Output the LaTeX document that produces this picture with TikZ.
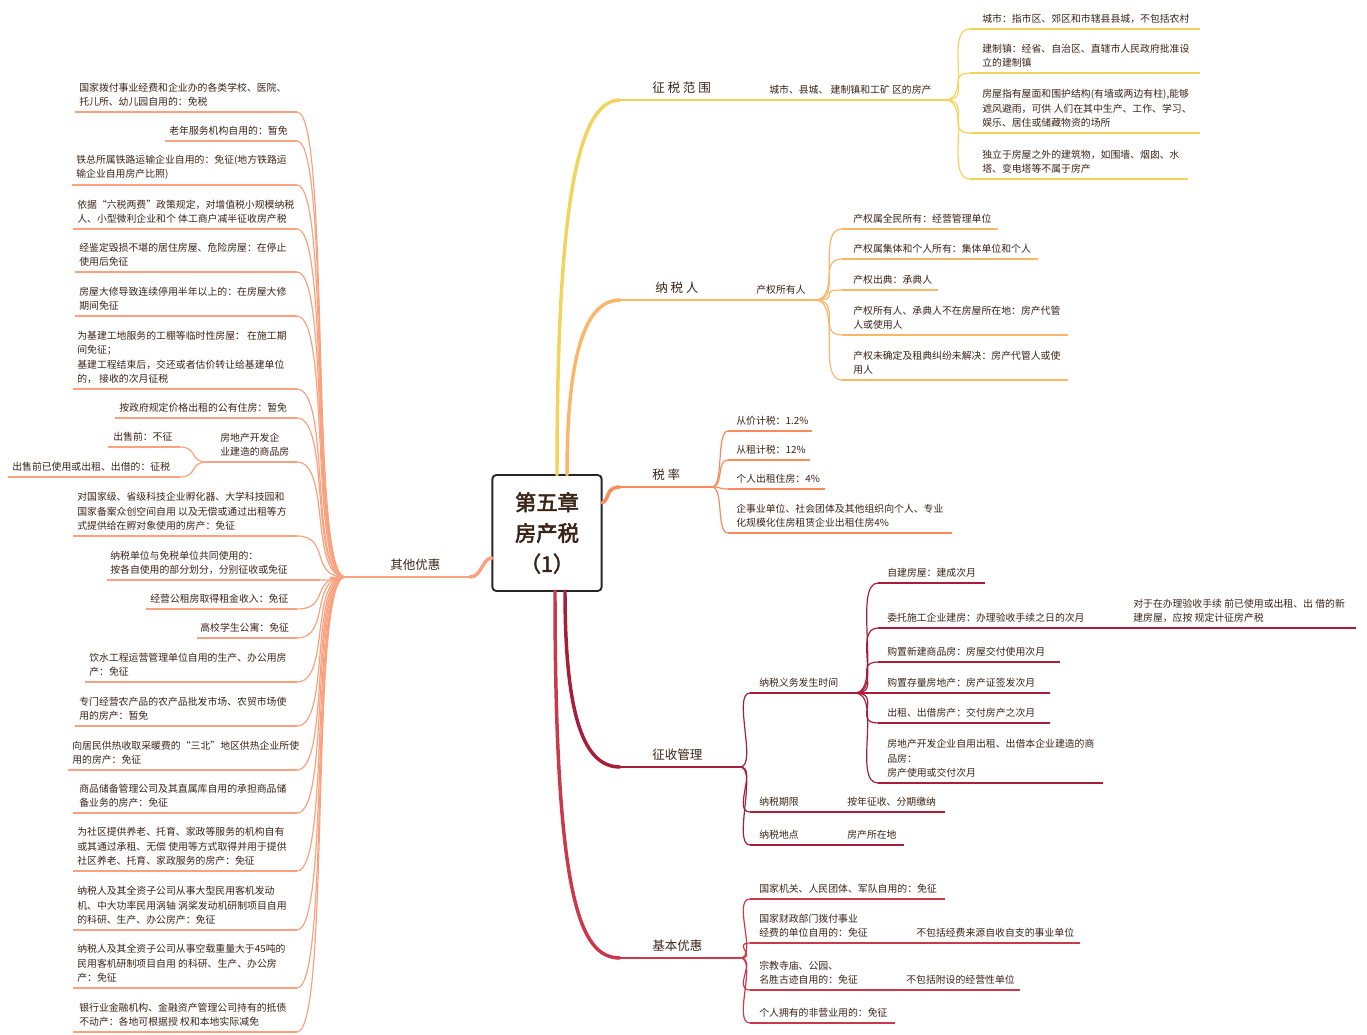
\documentclass[tikz,border=0pt]{standalone}
\usepackage{fontspec}
\setmainfont{Noto Sans CJK SC}
\newfontfamily\boldcjk{Noto Sans CJK SC}[FakeBold=2.5]
\usetikzlibrary{calc}

\definecolor{yel}{HTML}{F2D45C}
\definecolor{lor}{HTML}{FBB769}
\definecolor{org}{HTML}{F88A5C}
\definecolor{dred}{HTML}{A61E3A}
\definecolor{rred}{HTML}{C9394A}
\definecolor{sal}{HTML}{F9A27F}
\definecolor{txt}{HTML}{3A2418}

\tikzset{
  leaftext/.style={inner sep=0pt, align=left, text=txt, font=\fontsize{7.4}{10.9}\selectfont},
  mainlabel/.style={inner sep=0pt, text=txt, font=\fontsize{9.4}{12}\selectfont},
  fan/.style={line width=0.9pt},
  trunk/.style={line width=2.6pt, line cap=round},
}

% name, colour, x1, x2, y of underline, x of text, text
\newcommand{\leaf}[7]{%
  \coordinate (#1-w) at (#3,#5);
  \coordinate (#1-e) at (#4,#5);
  \draw[#2, fan] (#1-w) -- (#1-e);
  \node[leaftext, anchor=south west] (#1) at (#6,#5-5) {#7};}
\newcommand{\mleaf}[7]{%
  \coordinate (#1-w) at (#3,#5);
  \coordinate (#1-e) at (#4,#5);
  \draw[#2, line width=1.6pt] (#1-w) -- (#1-e);
  \node[mainlabel, anchor=south west] (#1) at (#6,#5-6) {#7};}
% fan to the right / to the left
\newcommand{\fanR}[3]{\draw[#1, fan] (#2) .. controls +(28,0) and +(-26,0) .. (#3);}
\newcommand{\fanL}[3]{\draw[#1, fan] (#2) .. controls +(-36,0) and +(34,0) .. (#3);}

\begin{document}
\begin{tikzpicture}[x=0.75pt, y=-0.75pt]
  \useasboundingbox (0,0) rectangle (1367,1035);

  % centre
  \node[draw=black!85, line width=1.4pt, rounded corners=3pt, minimum width=82pt, minimum height=87pt,
        align=center, inner sep=0pt, text=txt, font=\boldcjk\fontsize{16}{23}\selectfont]
        (box) at (547,533) {第五章\\房产税\\（1）};

  % ---------------- 征税范围
  \mleaf{fw}{yel}{620}{760}{100}{652}{征 税 范 围}
  \leaf{fwA}{yel}{760}{945}{100}{769}{城市、县城、 建制镇和工矿 区的房产}
  \leaf{fw1}{yel}{970}{1200}{29}{982}{城市：指市区、郊区和市辖县县城，不包括农村}
  \leaf{fw2}{yel}{970}{1200}{73}{982}{建制镇：经省、自治区、直辖市人民政府批准设\\立的建制镇}
  \leaf{fw3}{yel}{970}{1200}{133}{982}{房屋指有屋面和围护结构(有墙或两边有柱),能够\\遮风避雨，可供 人们在其中生产、工作、学习、\\娱乐、居住或储藏物资的场所}
  \leaf{fw4}{yel}{970}{1188}{179}{982}{独立于房屋之外的建筑物，如围墙、烟囱、水\\塔、变电塔等不属于房产}
  \foreach \n in {fw1,fw2,fw3,fw4} {\fanR{yel}{fwA-e}{\n-w}}

  % ---------------- 纳税人
  \mleaf{ns}{lor}{620}{745}{300}{655}{纳 税 人}
  \leaf{nsA}{lor}{745}{815}{300}{756}{产权所有人}
  \leaf{ns1}{lor}{842}{998}{229}{853}{产权属全民所有：经营管理单位}
  \leaf{ns2}{lor}{842}{1038}{259}{853}{产权属集体和个人所有：集体单位和个人}
  \leaf{ns3}{lor}{842}{938}{290}{853}{产权出典：承典人}
  \leaf{ns4}{lor}{842}{1068}{335}{853}{产权所有人、承典人不在房屋所在地：房产代管\\人或使用人}
  \leaf{ns5}{lor}{842}{1068}{380}{853}{产权未确定及租典纠纷未解决：房产代管人或使\\用人}
  \foreach \n in {ns1,ns2,ns3,ns4,ns5} {\fanR{lor}{nsA-e}{\n-w}}

  % ---------------- 税率
  \mleaf{sl}{org}{620}{712}{487}{652}{税 率}
  \leaf{sl1}{org}{728}{812}{431}{736}{从价计税：1.2\%}
  \leaf{sl2}{org}{728}{810}{460}{736}{从租计税：12\%}
  \leaf{sl3}{org}{728}{825}{489}{736}{个人出租住房：4\%}
  \leaf{sl4}{org}{728}{952}{533}{736}{企事业单位、社会团体及其他组织向个人、专业\\化规模化住房租赁企业出租住房4\%}
  \foreach \n in {sl1,sl2,sl3,sl4} {\draw[org, fan] (sl-e) .. controls +(12,0) and +(-12,0) .. (\n-w);}

  % ---------------- 征收管理
  \mleaf{zs}{dred}{620}{740}{767}{652}{征收管理}
  \leaf{zsA}{dred}{750}{855}{693}{759}{纳税义务发生时间}
  \leaf{zs1}{dred}{878}{985}{583}{887}{自建房屋：建成次月}
  \leaf{zs2}{dred}{878}{1020}{628}{887}{委托施工企业建房：办理验收手续之日的次月}
  \leaf{zs2a}{dred}{1020}{1356}{628}{1133}{对于在办理验收手续 前已使用或出租、出 借的新\\建房屋，应按 规定计征房产税}
  \leaf{zs3}{dred}{878}{1060}{662}{887}{购置新建商品房：房屋交付使用次月}
  \leaf{zs4}{dred}{878}{1050}{693}{887}{购置存量房地产：房产证签发次月}
  \leaf{zs5}{dred}{878}{1050}{723}{887}{出租、出借房产：交付房产之次月}
  \leaf{zs6}{dred}{878}{1103}{783}{887}{房地产开发企业自用出租、出借本企业建造的商\\品房：\\房产使用或交付次月}
  \leaf{zsB}{dred}{750}{820}{812}{759}{纳税期限}
  \leaf{zsB1}{dred}{820}{945}{812}{847}{按年征收、分期缴纳}
  \leaf{zsC}{dred}{750}{820}{845}{759}{纳税地点}
  \leaf{zsC1}{dred}{820}{904}{845}{847}{房产所在地}
  \foreach \n in {zsA,zsB,zsC} {\draw[dred, fan] (zs-e) .. controls +(18,0) and +(-18,0) .. (\n-w);}
  \foreach \n in {zs1,zs2,zs3,zs4,zs5,zs6} {\fanR{dred}{zsA-e}{\n-w}}

  % ---------------- 基本优惠
  \mleaf{jb}{rred}{620}{740}{958}{652}{基本优惠}
  \leaf{jb1}{rred}{750}{945}{899}{759}{国家机关、人民团体、军队自用的：免征}
  \leaf{jb2}{rred}{750}{900}{943}{759}{国家财政部门拨付事业\\经费的单位自用的：免征}
  \leaf{jb2a}{rred}{900}{1080}{943}{916}{不包括经费来源自收自支的事业单位}
  \leaf{jb3}{rred}{750}{890}{990}{759}{宗教寺庙、公园、\\名胜古迹自用的：免征}
  \leaf{jb3a}{rred}{890}{1020}{990}{906}{不包括附设的经营性单位}
  \leaf{jb4}{rred}{750}{895}{1023}{759}{个人拥有的非营业用的：免征}
  \foreach \n in {jb1,jb2,jb3,jb4} {\draw[rred, fan] (jb-e) .. controls +(18,0) and +(-18,0) .. (\n-w);}

  % ---------------- 其他优惠
  \mleaf{qt}{sal}{345}{470}{577}{390}{其他优惠}
  \leaf{qt1}{sal}{75}{297}{112}{79}{国家拨付事业经费和企业办的各类学校、医院、\\托儿所、幼儿园自用的：免税}
  \leaf{qt2}{sal}{165}{297}{141}{169}{老年服务机构自用的：暂免}
  \leaf{qt3}{sal}{72}{297}{185}{76}{铁总所属铁路运输企业自用的：免征(地方铁路运\\输企业自用房产比照)}
  \leaf{qt4}{sal}{73}{297}{229}{77}{依据“六税两费”政策规定，对增值税小规模纳税\\人、小型微利企业和个 体工商户减半征收房产税}
  \leaf{qt5}{sal}{75}{297}{272}{79}{经鉴定毁损不堪的居住房屋、危险房屋：在停止\\使用后免征}
  \leaf{qt6}{sal}{75}{297}{316}{79}{房屋大修导致连续停用半年以上的：在房屋大修\\期间免征}
  \leaf{qt7}{sal}{73}{297}{389}{77}{为基建工地服务的工棚等临时性房屋： 在施工期\\间免征；\\基建工程结束后，交还或者估价转让给基建单位\\的， 接收的次月征税}
  \leaf{qt8}{sal}{115}{297}{418}{119}{按政府规定价格出租的公有住房：暂免}
  \leaf{qt9}{sal}{207}{297}{462}{220}{房地产开发企\\业建造的商品房}
  \leaf{qt9a}{sal}{108}{180}{447}{113}{出售前：不征}
  \leaf{qt9b}{sal}{8}{180}{477}{12}{出售前已使用或出租、出借的：征税}
  \leaf{qt10}{sal}{73}{297}{536}{77}{对国家级、省级科技企业孵化器、大学科技园和\\国家备案众创空间自用 以及无偿或通过出租等方\\式提供给在孵对象使用的房产：免征}
  \leaf{qt11}{sal}{107}{320}{580}{110}{纳税单位与免税单位共同使用的：\\按各自使用的部分划分，分别征收或免征}
  \leaf{qt12}{sal}{146}{297}{609}{150}{经营公租房取得租金收入：免征}
  \leaf{qt13}{sal}{197}{297}{638}{200}{高校学生公寓：免征}
  \leaf{qt14}{sal}{85}{297}{682}{89}{饮水工程运营管理单位自用的生产、办公用房\\产：免征}
  \leaf{qt15}{sal}{75}{297}{726}{79}{专门经营农产品的农产品批发市场、农贸市场使\\用的房产：暂免}
  \leaf{qt16}{sal}{68}{297}{770}{72}{向居民供热收取采暖费的“三北”地区供热企业所使\\用的房产：免征}
  \leaf{qt17}{sal}{73}{297}{813}{79}{商品储备管理公司及其直属库自用的承担商品储\\备业务的房产：免征}
  \leaf{qt18}{sal}{73}{297}{871}{77}{为社区提供养老、托育、家政等服务的机构自有\\或其通过承租、无偿 使用等方式取得并用于提供\\社区养老、托育、家政服务的房产：免征}
  \leaf{qt19}{sal}{73}{297}{930}{77}{纳税人及其全资子公司从事大型民用客机发动\\机、中大功率民用涡轴 涡桨发动机研制项目自用\\的科研、生产、办公房产：免征}
  \leaf{qt20}{sal}{73}{297}{988}{77}{纳税人及其全资子公司从事空载重量大于45吨的\\民用客机研制项目自用 的科研、生产、办公房\\产：免征}
  \leaf{qt21}{sal}{73}{297}{1032}{79}{银行业金融机构、金融资产管理公司持有的抵债\\不动产：各地可根据授 权和本地实际减免}
  \foreach \n in {qt1,qt2,qt3,qt4,qt5,qt6,qt7,qt8,qt9,qt10,qt11,qt12,qt13,qt14,qt15,qt16,qt17,qt18,qt19,qt20,qt21}
    {\fanL{sal}{qt-w}{\n-e}}
  \foreach \n in {qt9a,qt9b} {\draw[sal, fan] (qt9-w) .. controls +(-18,0) and +(18,0) .. (\n-e);}

  % trunks from the centre box
  \coordinate (tYel) at (557,475);
  \coordinate (tLor) at (567,475);
  \coordinate (tOrg) at (602,503);
  \coordinate (tDred) at (565,591);
  \coordinate (tRred) at (555,591);
  \coordinate (tSal) at (492,558);
  \draw[yel, trunk] (tYel) .. controls (557,220) and (575,100) .. (fw-w);
  \draw[lor, trunk] (tLor) .. controls (567,340) and (590,300) .. (ns-w);
  \draw[org, trunk] (tOrg) .. controls (610,500) and (605,487) .. (sl-w);
  \draw[dred, trunk] (tDred) .. controls (565,720) and (585,767) .. (zs-w);
  \draw[rred, trunk] (tRred) .. controls (555,900) and (580,958) .. (jb-w);
  \draw[sal, trunk] (tSal) .. controls (482,558) and (482,577) .. (qt-e);
\end{tikzpicture}
\end{document}
